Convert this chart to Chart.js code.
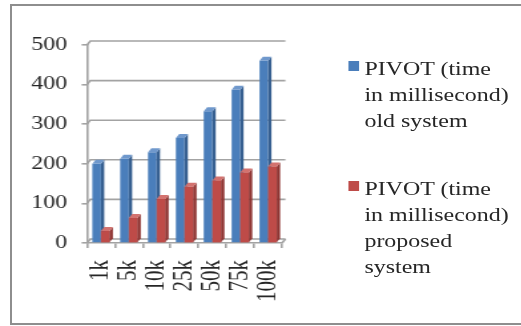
<!DOCTYPE html>
<html>
<head>
<meta charset="utf-8">
<script src="https://cdn.jsdelivr.net/npm/chart.js@4.4.0/dist/chart.umd.min.js"></script>
<style>
  body { margin: 0; background: #fff; width: 521px; height: 326px; overflow: hidden; position: relative; }
  .frame { position: absolute; left: 10px; top: 4px; width: 530px; height: 321px; box-sizing: border-box; border: 2px solid #8e8e8e; }
  /* the source picture is stretched sideways, so the whole chart is too */
  .stretch { position: absolute; left: 0; top: 0; width: 392px; height: 326px; transform: scaleX(1.33); transform-origin: 0 0; }
  #chart { position: absolute; left: 0; top: 0; }
  .legend { position: absolute; left: 262px; top: 0; font-family: 'Liberation Serif', 'Times New Roman', serif; font-size: 18px; line-height: 26px; color: #262626; }
  .item { position: absolute; left: 0; white-space: nowrap; }
  .swatch { position: absolute; left: 0; top: 5px; width: 7.5px; height: 10px; }
  .text { position: absolute; left: 12px; top: 0; }
</style>
</head>
<body>
<div class="frame"></div>
<div class="stretch">
  <canvas id="chart" width="240" height="326"></canvas>
  <div class="legend" id="legend"></div>
</div>
<script>
const categories = ['1k', '5k', '10k', '25k', '50k', '75k', '100k'];
const oldSystem = [200, 213, 229, 265, 333, 387, 460];
const proposedSystem = [30, 63, 111, 142, 158, 178, 193];
const yTicks = [0, 100, 200, 300, 400, 500];
const oldLabel = ['PIVOT (time', 'in millisecond)', 'old system'];
const proposedLabel = ['PIVOT (time', 'in millisecond)', 'proposed', 'system'];

const blue = { front: '#4a7ebb', side: '#365f90', top: '#6f98cc' };
const red = { front: '#be4b48', side: '#8e3432', top: '#d3726f' };
const gridColor = '#a3a3a3';
const depthX = 2.5;
const depthY = 4;

function drawFaces(ctx, bar, colors) {
  const { x, y, base, width } = bar.getProps(['x', 'y', 'base', 'width'], true);
  const l = x - width / 2;
  const r = x + width / 2;
  ctx.fillStyle = colors.side;
  ctx.beginPath();
  ctx.moveTo(r, y);
  ctx.lineTo(r + depthX, y - depthY);
  ctx.lineTo(r + depthX, base - depthY);
  ctx.lineTo(r, base);
  ctx.closePath();
  ctx.fill();
  ctx.fillStyle = colors.top;
  ctx.beginPath();
  ctx.moveTo(l, y);
  ctx.lineTo(l + depthX, y - depthY);
  ctx.lineTo(r + depthX, y - depthY);
  ctx.lineTo(r, y);
  ctx.closePath();
  ctx.fill();
}

// back wall grid lines and fake 3D sides on the bars
const depthPlugin = {
  id: 'depth',
  beforeDatasetsDraw(chart) {
    const { ctx, chartArea, scales } = chart;
    ctx.save();
    ctx.strokeStyle = gridColor;
    ctx.lineWidth = 1.6;
    scales.y.ticks.forEach(t => {
      const py = scales.y.getPixelForValue(t.value);
      ctx.beginPath();
      ctx.moveTo(chartArea.left, py);
      ctx.lineTo(chartArea.left + depthX, py - depthY);
      ctx.lineTo(chartArea.right + depthX, py - depthY);
      ctx.stroke();
    });
    ctx.beginPath();
    ctx.moveTo(chartArea.right, chartArea.bottom);
    ctx.lineTo(chartArea.right + depthX, chartArea.bottom - depthY);
    ctx.stroke();
    ctx.restore();
  },
  afterDatasetsDraw(chart) {
    const ctx = chart.ctx;
    const oldBars = chart.getDatasetMeta(0).data;
    const newBars = chart.getDatasetMeta(1).data;
    ctx.save();
    oldBars.forEach((bar, i) => {
      drawFaces(ctx, bar, blue);
      newBars[i].draw(ctx);
      drawFaces(ctx, newBars[i], red);
    });
    ctx.restore();
  }
};

const chart = new Chart(document.getElementById('chart'), {
  type: 'bar',
  data: {
    labels: categories,
    datasets: [
      {
        label: oldLabel.join(' '),
        data: oldSystem,
        backgroundColor: blue.front,
        categoryPercentage: 0.62,
        barPercentage: 1,
      },
      {
        label: proposedLabel.join(' '),
        data: proposedSystem,
        backgroundColor: red.front,
        categoryPercentage: 0.62,
        barPercentage: 1,
      },
    ],
  },
  options: {
    responsive: false,
    animation: false,
    layout: { padding: { top: 45, right: 16.7, bottom: 8, left: 0 } },
    plugins: { legend: { display: false }, tooltip: { enabled: false } },
    scales: {
      x: {
        grid: { drawOnChartArea: false, tickLength: 5, color: gridColor, lineWidth: 1.6 },
        border: { color: gridColor, width: 1.6 },
        ticks: {
          autoSkip: false,
          minRotation: 90,
          maxRotation: 90,
          padding: 12,
          color: '#262626',
          font: { family: 'Liberation Serif', size: 21 },
        },
        afterFit(scale) { scale.height = 75; },
      },
      y: {
        min: yTicks[0],
        max: yTicks[yTicks.length - 1],
        grid: { drawOnChartArea: false, tickLength: 4, color: gridColor, lineWidth: 1.6 },
        border: { color: gridColor, width: 1.6 },
        ticks: {
          stepSize: yTicks[1] - yTicks[0],
          padding: 11,
          color: '#262626',
          font: { family: 'Liberation Serif', size: 18 },
        },
        afterFit(scale) { scale.width = 65.4; },
      },
    },
  },
  plugins: [depthPlugin],
});

// legend kept as html so the labels wrap like the original
const legend = document.getElementById('legend');
[[oldLabel, blue.front, 56], [proposedLabel, red.front, 176]].forEach(([lines, color, top]) => {
  const item = document.createElement('div');
  item.className = 'item';
  item.style.top = top + 'px';
  item.innerHTML = '<span class="swatch" style="background:' + color + '"></span>' +
    '<span class="text">' + lines.join('<br>') + '</span>';
  legend.appendChild(item);
});
</script>
</body>
</html>
